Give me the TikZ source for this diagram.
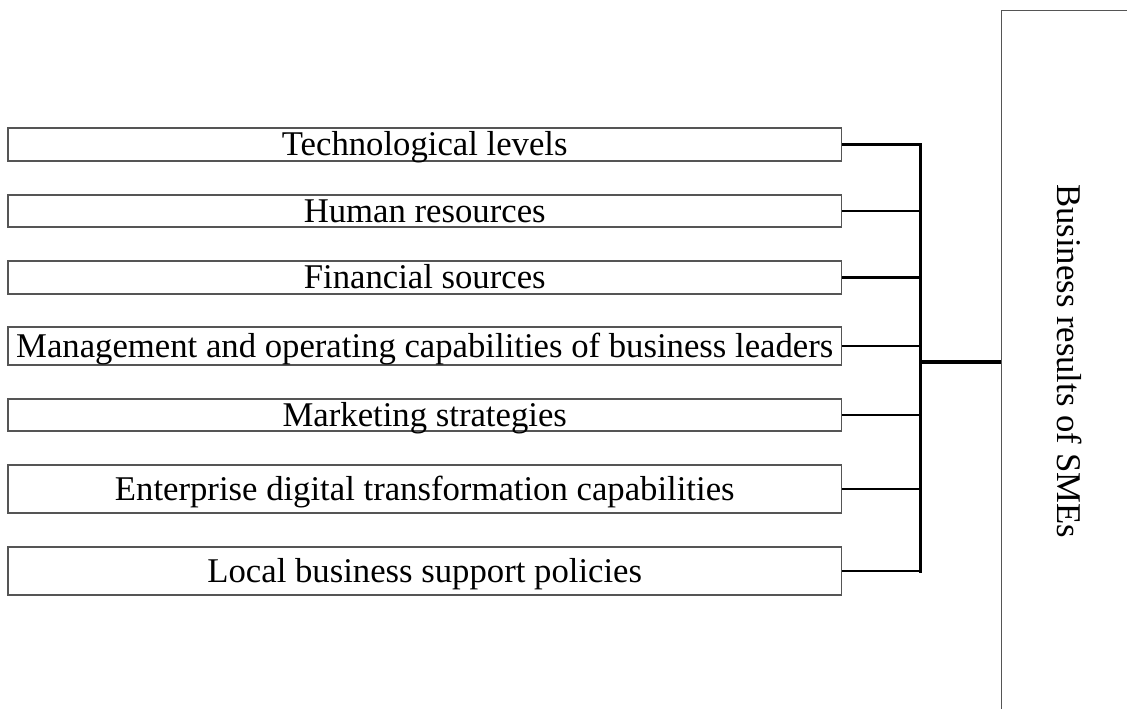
\documentclass[tikz,border=0pt]{standalone}
\usepackage{fontspec}
\setmainfont{Liberation Serif}
\definecolor{boxgray}{HTML}{555555}
\begin{document}
\begin{tikzpicture}[x=1pt,y=-1pt,
  factor/.style={draw=boxgray, line width=1.1pt, minimum width=833.5pt,
    inner sep=0pt, font=\fontsize{34.7}{42}\selectfont,
    text height=26pt, text depth=4pt},
  feed/.style={line width=2.5pt, black},
  busline/.style={line width=3pt, black, line cap=rect},
  mainline/.style={line width=3.3pt, black}]
  \useasboundingbox (0,0) rectangle (1127,709);
  \clip (0,0) rectangle (1127,709);

  % factor boxes
  \node[factor, minimum height=33pt] (b1) at (424.75,144.5) {Technological levels};
  \node[factor, minimum height=32pt] (b2) at (424.75,211) {Human resources};
  \node[factor, minimum height=33pt] (b3) at (424.75,277.5) {Financial sources};
  \node[factor, minimum height=38pt] (b4) at (424.75,346) {Management and operating capabilities of business leaders};
  \node[factor, minimum height=32pt] (b5) at (424.75,415) {Marketing strategies};
  \node[factor, minimum height=48pt] (b6) at (424.75,489) {Enterprise digital transformation capabilities};
  \node[factor, minimum height=48pt] (b7) at (424.75,571) {Local business support policies};

  % outcome box, open to the right and bottom
  \node[draw=boxgray, line width=1.1pt, anchor=north west, minimum width=200pt,
        minimum height=720pt, inner sep=0pt] (res) at (1001,10) {};
  \node[rotate=-90, anchor=base, font=\fontsize{34.7}{42}\selectfont, inner sep=0pt]
        (restitle) at (1057,361) {Business results of SMEs};

  % bracket joining the factors
  \coordinate (busx) at (920,0);
  \foreach \b in {b1,b2,b3,b4,b5,b6,b7}
    \draw[feed] (\b.east) -- (\b.east -| busx);
  \draw[busline] (b1.east -| busx) -- (b7.east -| busx);
  \coordinate (hub) at (920,362);
  \draw[mainline] (hub) -- (hub -| res.west);
\end{tikzpicture}
\end{document}
